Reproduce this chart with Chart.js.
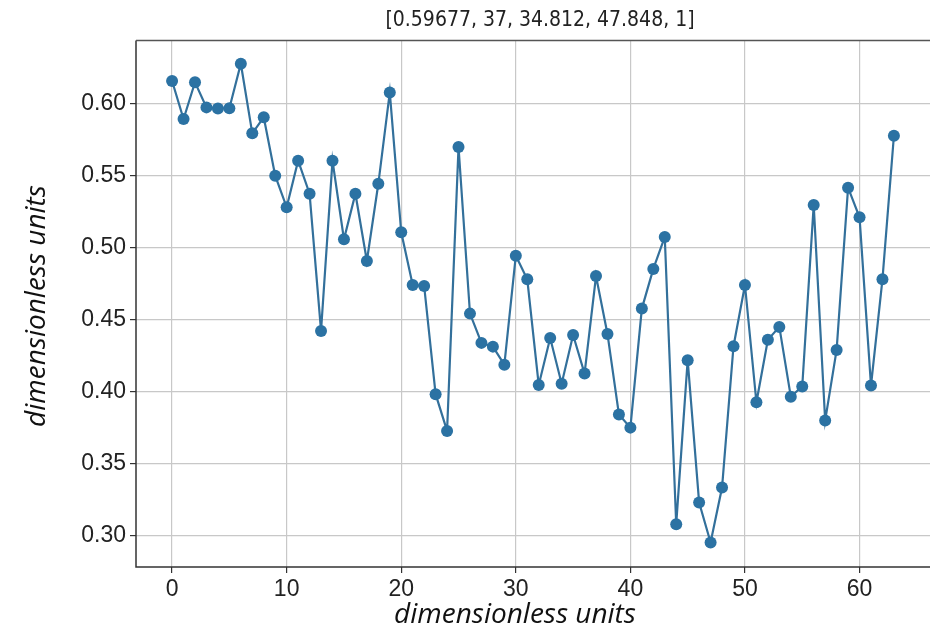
<!DOCTYPE html>
<html>
<head>
<meta charset="utf-8">
<script src="https://cdn.jsdelivr.net/npm/chart.js@4.4.1/dist/chart.umd.min.js"></script>
<style>
  html, body { margin: 0; padding: 0; background: #ffffff; }
  #wrap { width: 930px; height: 632px; position: relative; }
</style>
</head>
<body>
<div id="wrap"><canvas id="c" width="930" height="632"></canvas></div>
<script>
const chartTitle = "[0.59677, 37, 34.812, 47.848, 1]";
const xAxisLabel = "dimensionless units";
const yAxisLabel = "dimensionless units";

const xIndex = [
  0, 1, 2, 3, 4, 5, 6, 7, 8, 9,
  10, 11, 12, 13, 14, 15, 16, 17, 18, 19,
  20, 21, 22, 23, 24, 25, 26, 27, 28, 29,
  30, 31, 32, 33, 34, 35, 36, 37, 38, 39,
  40, 41, 42, 43, 44, 45, 46, 47, 48, 49,
  50, 51, 52, 53, 54, 55, 56, 57, 58, 59,
  60, 61, 62, 63
];

const seriesValues = [
  0.6155, 0.5891, 0.6146, 0.5972, 0.5965, 0.5966, 0.6275, 0.5792, 0.5903, 0.5498,
  0.5279, 0.5602, 0.5373, 0.4421, 0.5602, 0.5057, 0.5373, 0.4906, 0.5442, 0.6076,
  0.5105, 0.4740, 0.4733, 0.3982, 0.3727, 0.5697, 0.4541, 0.4338, 0.4312, 0.4187,
  0.4943, 0.4779, 0.4046, 0.4372, 0.4055, 0.4393, 0.4125, 0.4802, 0.4400, 0.3841,
  0.3750, 0.4576, 0.4851, 0.5073, 0.3080, 0.4218, 0.3230, 0.2953, 0.3334, 0.4315,
  0.4740, 0.3926, 0.4360, 0.4449, 0.3965, 0.4035, 0.5295, 0.3799, 0.4289, 0.5415,
  0.5209, 0.4042, 0.4779, 0.5775
];

const xTicks = [0, 10, 20, 30, 40, 50, 60];
const yTicks = [0.30, 0.35, 0.40, 0.45, 0.50, 0.55, 0.60];

const points = xIndex.map((x, i) => ({ x: x, y: seriesValues[i] }));

const framePlugin = {
  id: 'frame',
  afterDraw(chart) {
    const { ctx, chartArea: a } = chart;
    ctx.save();
    ctx.lineWidth = 1.5;
    ctx.strokeStyle = '#333333';
    ctx.beginPath();
    ctx.moveTo(a.left, a.top);
    ctx.lineTo(a.left, a.bottom);
    ctx.lineTo(a.right, a.bottom);
    ctx.stroke();
    ctx.strokeStyle = '#555555';
    ctx.beginPath();
    ctx.moveTo(a.left, a.top);
    ctx.lineTo(a.right, a.top);
    ctx.stroke();

    // texts: title and axis titles
    ctx.fillStyle = '#222222';
    ctx.textAlign = 'center';
    ctx.textBaseline = 'middle';
    ctx.font = "21px 'DejaVu Sans Condensed', 'DejaVu Sans'";
    ctx.fillText(chartTitle, 540, 20.5);

    ctx.fillStyle = '#111111';
    ctx.font = "italic 28px 'Open Sans', sans-serif";
    ctx.fillText(xAxisLabel, 515, 615);

    ctx.translate(37, 306);
    ctx.rotate(-Math.PI / 2);
    ctx.fillText(yAxisLabel, 0, 0);
    ctx.restore();
  }
};

new Chart(document.getElementById('c'), {
  type: 'line',
  data: {
    datasets: [{
      data: points,
      borderColor: '#33709b',
      backgroundColor: '#2b72a3',
      pointBackgroundColor: '#2b72a3',
      pointBorderColor: '#2b72a3',
      borderWidth: 2.2,
      pointRadius: 6,
      pointBorderWidth: 0,
      tension: 0
    }]
  },
  options: {
    responsive: false,
    animation: false,
    devicePixelRatio: 1,
    layout: { autoPadding: false, padding: { left: 0, right: 0, top: 40.5, bottom: 0 } },
    plugins: {
      legend: { display: false },
      tooltip: { enabled: false },
      title: { display: false }
    },
    scales: {
      x: {
        type: 'linear',
        min: -3.15,
        max: 66.15,
        afterFit: (s) => { s.height = 65; },
        afterBuildTicks: (s) => { s.ticks = xTicks.map(v => ({ value: v })); },
        grid: { color: '#c8c8c8', lineWidth: 1.2, tickLength: 6, tickColor: '#333333' },
        border: { display: false },
        ticks: {
          color: '#222222',
          font: { family: "'Liberation Sans', Arial, sans-serif", size: 23 },
          padding: 3,
          maxRotation: 0,
          callback: (v) => String(v)
        },
        title: { display: false }
      },
      y: {
        type: 'linear',
        min: 0.2783,
        max: 0.6436,
        afterFit: (s) => { s.width = 136; },
        afterBuildTicks: (s) => { s.ticks = yTicks.map(v => ({ value: v })); },
        grid: { color: '#c8c8c8', lineWidth: 1.2, tickLength: 6, tickColor: '#333333' },
        border: { display: false },
        ticks: {
          color: '#222222',
          font: { family: "'Liberation Sans', Arial, sans-serif", size: 23 },
          padding: 4,
          callback: (v) => Number(v).toFixed(2)
        },
        title: { display: false }
      }
    }
  },
  plugins: [framePlugin]
});
</script>
</body>
</html>
